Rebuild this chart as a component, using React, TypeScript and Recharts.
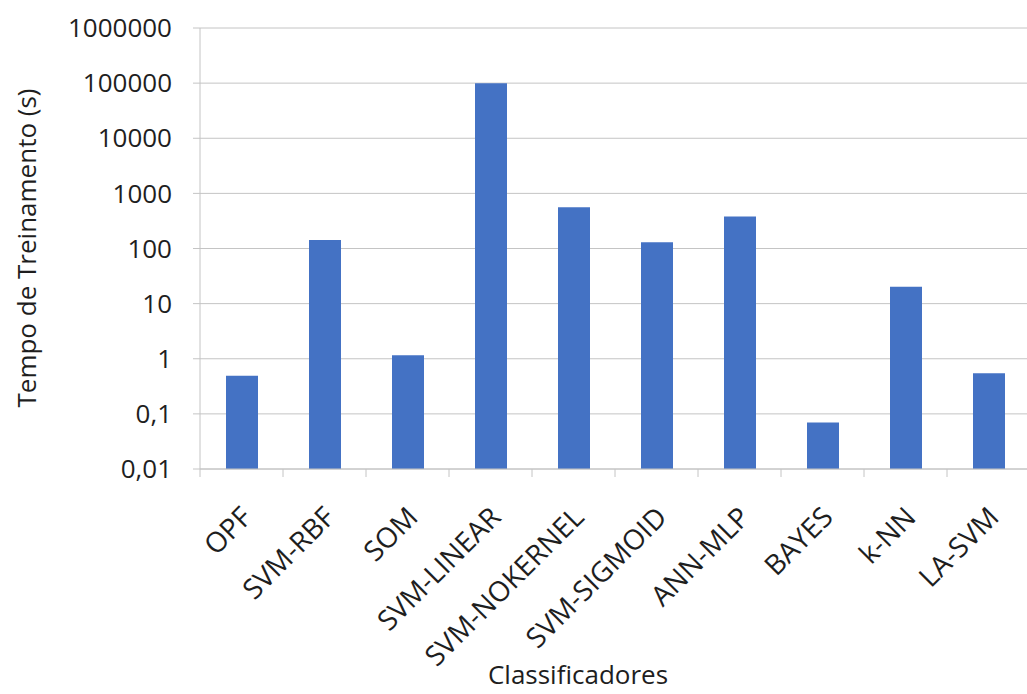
import { BarChart, Bar, XAxis, YAxis, CartesianGrid, Label } from 'recharts';

const classifiers = [
  'OPF',
  'SVM-RBF',
  'SOM',
  'SVM-LINEAR',
  'SVM-NOKERNEL',
  'SVM-SIGMOID',
  'ANN-MLP',
  'BAYES',
  'k-NN',
  'LA-SVM',
];
const trainingTime = [0.49, 143, 1.16, 100000, 562, 130, 379, 0.07, 20.3, 0.546];
const yTicks = [0.01, 0.1, 1, 10, 100, 1000, 10000, 100000, 1000000];

const data = classifiers.map((name, i) => ({ name, tempo: trainingTime[i] }));

const WIDTH = 1040;
const HEIGHT = 694;
const MARGIN = { top: 28, right: 10, bottom: 0, left: 0 };
const Y_AXIS_WIDTH = 200;
const BAND = (WIDTH - MARGIN.left - MARGIN.right - Y_AXIS_WIDTH) / classifiers.length;

const FONT = '"Open Sans", sans-serif';
const TEXT = '#1e1e1e';
const GRID = '#c4c4c4';
const BLUE = '#4472C4';

const formatTick = (v: number) => String(v).replace('.', ',');

const XTick = ({ x, y, payload }: any) => {
  const tx = x + 12;
  const ty = y + 50;
  return (
    <g>
      <line x1={x - BAND / 2} y1={y} x2={x - BAND / 2} y2={y + 8} stroke={GRID} />
      <text
        x={tx}
        y={ty}
        transform={`rotate(-45, ${tx}, ${ty})`}
        textAnchor="end"
        fill={TEXT}
        fontSize={28}
        fontFamily={FONT}
      >
        {payload.value}
      </text>
    </g>
  );
};

export default function App() {
  return (
    <div
      style={{
        position: 'fixed',
        left: 0,
        top: 0,
        width: 1027,
        height: 694,
        overflow: 'hidden',
        background: '#fff',
      }}
    >
      <BarChart width={WIDTH} height={HEIGHT} data={data} margin={MARGIN}>
        <CartesianGrid vertical={false} stroke={GRID} />
        <XAxis
          dataKey="name"
          interval={0}
          height={HEIGHT - 469}
          tickSize={0}
          tickMargin={0}
          tickLine={false}
          axisLine={{ stroke: GRID }}
          tick={<XTick />}
        >
          <Label
            content={() => (
              <text x={578} y={684} textAnchor="middle" fill={TEXT} fontSize={26} fontFamily={FONT}>
                Classificadores
              </text>
            )}
          />
        </XAxis>
        <YAxis
          width={Y_AXIS_WIDTH}
          scale="log"
          type="number"
          domain={[0.01, 1000000]}
          ticks={yTicks}
          allowDataOverflow
          tickFormatter={formatTick}
          tickSize={7}
          tickMargin={21}
          tickLine={{ stroke: GRID }}
          axisLine={{ stroke: GRID }}
          tick={{ fill: TEXT, fontSize: 26, fontFamily: FONT }}
        >
          <Label
            content={() => (
              <text
                x={36}
                y={248}
                transform="rotate(-90, 36, 248)"
                textAnchor="middle"
                fill={TEXT}
                fontSize={26}
                fontFamily={FONT}
              >
                Tempo de Treinamento (s)
              </text>
            )}
          />
        </YAxis>
        <Bar dataKey="tempo" fill={BLUE} barSize={32} isAnimationActive={false} />
      </BarChart>
    </div>
  );
}
